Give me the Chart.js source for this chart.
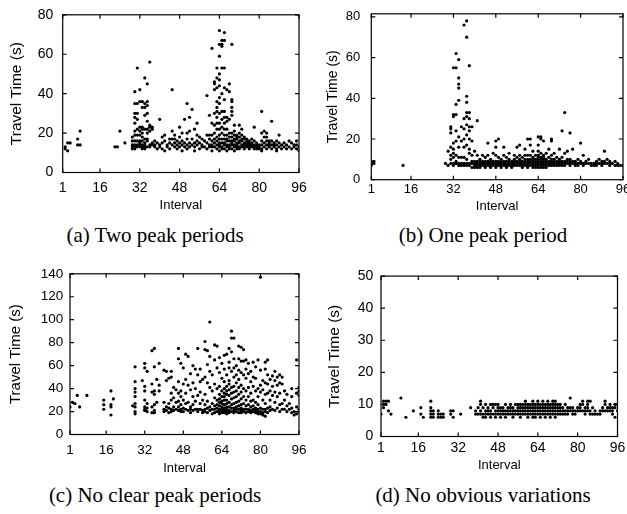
<!DOCTYPE html>
<html>
<head>
<meta charset="utf-8">
<script src="https://cdn.jsdelivr.net/npm/chart.js@4.4.1/dist/chart.umd.min.js"></script>
<style>
  html, body { margin: 0; padding: 0; background: #fff; overflow: hidden; }
  #page { position: relative; width: 627px; height: 514px; overflow: hidden; background: #fff; }
  canvas { position: absolute; }
  .cap {
    position: absolute; width: 300px; text-align: center; white-space: nowrap;
    font-family: "Liberation Serif", "Times New Roman", serif; font-size: 21px; line-height: 1; color: #000;
  }
</style>
</head>
<body>
<div id="page">
  <canvas id="chartA"></canvas>
  <canvas id="chartB"></canvas>
  <canvas id="chartC"></canvas>
  <canvas id="chartD"></canvas>
  <div class="cap" style="left:5px;top:225px">(a) Two peak periods</div>
  <div class="cap" style="left:333px;top:225px">(b) One peak period</div>
  <div class="cap" style="left:5px;top:485px">(c) No clear peak periods</div>
  <div class="cap" style="left:333px;top:485px">(d) No obvious variations</div>
</div>
<script>
const xTicks = [1, 16, 32, 48, 64, 80, 96];

// (a) two peak periods
const yTicksA = [0, 20, 40, 60, 80];
const intervalsA = [2, 3, 4, 7, 8, 22, 23, 24, 26, 29, 30, 31, 32, 33, 34, 35, 36, 37, 38, 39, 40, 41, 42, 43, 44, 45, 46, 47, 48, 49, 50, 51, 52, 53, 54, 55, 56, 57, 58, 59, 60, 61, 62, 63, 64, 65, 66, 67, 68, 69, 70, 71, 72, 73, 74, 75, 76, 77, 78, 79, 80, 81, 82, 83, 84, 85, 86, 87, 88, 89, 90, 91, 92, 93, 94, 95, 96];
const timesA = [
  [13, 12], [11, 15], [15], [17, 14], [21, 14], [13], [13], [21], [15],
  [18, 16, 14, 13, 12],
  [41, 35, 30, 28, 25, 21, 19, 16, 14, 13, 12],
  [53, 35, 30, 27, 22, 19, 16, 14, 13],
  [42, 36, 23, 21, 19, 16, 15, 14, 13],
  [36, 33, 23, 22, 20, 18, 16, 14, 13, 12],
  [48, 35, 33, 29, 22, 17, 15, 14, 13, 12],
  [45, 36, 34, 30, 26, 22, 20, 17, 16, 13],
  [56, 24, 23, 21, 14, 13],
  [23, 22, 15, 14],
  [16, 14, 13], [15, 12], [27, 14, 13], [18, 15, 12], [19, 16, 11], [14, 13],
  [17, 15, 12], [42, 21, 17, 14], [19, 17, 15, 13], [16, 14, 12], [23, 18, 15, 13],
  [20, 16, 14, 11], [27, 15, 13], [35, 20, 17, 14, 12], [28, 21, 15, 13], [32, 17, 14],
  [22, 15, 13, 11], [25, 19, 16, 14], [18, 15, 12], [17, 14, 13], [16, 13],
  [39, 19, 15, 12], [29, 19, 17, 14, 13], [63, 25, 19, 16, 14, 13, 11],
  [46, 45, 42, 30, 24, 20, 17, 15, 13],
  [53, 48, 43, 36, 33, 31, 28, 25, 22, 18, 16, 14, 12],
  [72, 65, 59, 50, 47, 44, 38, 35, 30, 25, 22, 19, 17, 15, 14, 13, 11],
  [67, 65, 64, 53, 40, 31, 27, 23, 20, 17, 15, 13, 12],
  [71, 67, 53, 43, 37, 31, 28, 25, 22, 19, 17, 15, 14, 12],
  [42, 28, 26, 22, 19, 17, 16, 14, 13, 11],
  [45, 41, 27, 20, 18, 16, 14, 13, 12],
  [65, 37, 36, 33, 31, 29, 20, 18, 16, 15, 14, 12],
  [24, 21, 19, 17, 16, 14, 13, 11],
  [19, 18, 17, 15, 14, 13, 12],
  [24, 20, 18, 16, 15, 13, 12],
  [22, 19, 17, 16, 14, 13],
  [18, 17, 15, 14, 13, 12],
  [17, 16, 15, 14, 13],
  [16, 15, 14, 13, 12],
  [17, 15, 14, 13],
  [23, 16, 14, 13, 12],
  [15, 14, 13, 12], [14, 13, 12], [31, 20, 16, 14, 12, 11], [21, 18, 15, 13],
  [20, 18, 16, 14, 12], [16, 15, 14, 13], [26, 16, 14, 12], [15, 14, 13],
  [16, 14, 12, 11], [19, 15, 13], [14, 12], [15, 13], [14, 12], [16, 13],
  [15, 12], [14, 13], [16, 14, 12], [13, 11]
];

// (b) one peak period
const yTicksB = [0, 20, 40, 60, 80];
const intervalsB = [1, 2, 13, 29, 30, 31, 32, 33, 34, 35, 36, 37, 38, 39, 40, 41, 42, 43, 44, 45, 46, 47, 48, 49, 50, 51, 52, 53, 54, 55, 56, 57, 58, 59, 60, 61, 62, 63, 64, 65, 66, 67, 68, 69, 70, 71, 72, 73, 74, 75, 76, 77, 78, 79, 80, 81, 82, 83, 84, 85, 86, 87, 88, 89, 90, 91, 92, 93, 94, 95, 96];
const timesB = [
  [9, 8, 7], [9, 8], [7], [8], [14, 7],
  [26, 25, 23, 16, 12, 10, 8],
  [55, 31, 32, 18, 15, 13, 11, 8, 7],
  [62, 55, 37, 32, 24, 19, 12, 9, 8],
  [59, 50, 47, 45, 39, 21, 16, 11, 8, 7],
  [26, 19, 11, 8, 7],
  [76, 30, 25, 20, 16, 11, 8, 7],
  [78, 70, 41, 38, 33, 31, 27, 22, 17, 10, 8, 7],
  [56, 33, 30, 26, 24, 20, 15, 13, 8, 7],
  [26, 19, 12, 9, 8, 6],
  [14, 9, 8, 7, 6], [29, 12, 9, 8, 7, 6], [10, 9, 8, 7, 6], [12, 9, 8, 7],
  [11, 9, 8, 7, 6], [18, 12, 9, 8, 7], [10, 9, 8, 7, 6], [13, 9, 8, 7],
  [16, 19, 12, 9, 8, 7, 6], [20, 11, 9, 8, 7], [10, 9, 8, 7, 6], [16, 12, 9, 8, 7],
  [11, 9, 8, 7, 6], [13, 10, 9, 8, 7], [9, 8, 7, 6], [12, 10, 9, 8, 7],
  [16, 11, 9, 8, 7], [17, 12, 10, 9, 8, 7], [11, 9, 8, 7, 6], [15, 12, 10, 9, 8, 7],
  [20, 12, 10, 9, 8, 7, 6], [20, 17, 12, 10, 9, 8, 7], [14, 11, 10, 9, 8, 7, 6],
  [12, 10, 9, 8, 7, 6], [21, 17, 14, 12, 11, 10, 9, 8, 7, 6],
  [21, 20, 13, 11, 10, 9, 8, 7, 6], [19, 12, 11, 10, 9, 8, 7, 6],
  [13, 10, 9, 8, 7, 6], [15, 11, 9, 8, 7], [20, 19, 12, 10, 9, 8, 7],
  [13, 10, 9, 8, 7], [11, 9, 8, 7], [15, 10, 9, 8, 7], [24, 11, 9, 8, 7],
  [33, 13, 9, 8, 7], [14, 10, 9, 8], [23, 10, 9, 8, 7], [15, 9, 8], [9, 8, 7],
  [10, 8, 7], [18, 9, 8], [12, 8, 7], [9, 8], [10, 8], [8, 7], [8, 7],
  [9, 8, 7], [10, 8], [9, 8, 7], [14, 9, 8], [10, 8], [9, 8, 7], [8], [9, 7],
  [8, 7], [7], [7]
];

// (c) no clear peak periods
const yTicksC = [0, 20, 40, 60, 80, 100, 120, 140];
const intervalsC = [1, 2, 3, 4, 5, 8, 15, 18, 19, 27, 28, 31, 32, 33, 35, 36, 37, 38, 40, 41, 42, 43, 44, 45, 46, 47, 48, 49, 50, 51, 52, 53, 54, 55, 56, 57, 58, 59, 60, 61, 62, 63, 64, 65, 66, 67, 68, 69, 70, 71, 72, 73, 74, 75, 76, 77, 78, 79, 80, 81, 82, 83, 84, 85, 86, 87, 88, 89, 90, 91, 92, 93, 94, 95, 96];
const timesC = [
  [24], [28], [27], [34], [24], [34], [30, 26, 22], [38, 26, 24, 17], [31], [25],
  [59, 46, 40, 37, 33, 27, 24, 20, 18], [47], [62, 58, 42, 38, 30, 24, 22, 21],
  [55, 27, 23, 20], [73, 44, 37, 24, 19], [75, 59, 38, 35, 26, 21, 19], [48, 28],
  [62, 43, 38], [56, 28, 22, 20], [55, 47, 24, 21], [49, 27, 23, 19],
  [55, 50, 36, 30, 22, 20], [41, 32, 24, 21], [39, 28, 22],
  [75, 66, 46, 36, 29, 24, 21], [62, 38, 33, 26, 22, 20], [58, 44, 30, 23, 20],
  [70, 48, 36, 27, 22], [68, 43, 28, 21], [53, 39, 24, 22, 19], [60, 45, 33, 26, 21],
  [57, 40, 29, 22], [75, 52, 34, 22, 20], [57, 46, 37, 27, 22], [48, 30, 21, 19],
  [81, 74, 50, 35, 26, 22, 20], [73, 61, 45, 29, 23, 19], [98, 68, 55, 41, 24, 21],
  [52, 38, 27, 22, 18], [78, 65, 44, 32, 25, 22, 19], [77, 58, 40, 30, 26, 23, 20],
  [67, 54, 42, 35, 31, 28, 25, 22, 20, 18], [62, 49, 38, 33, 29, 27, 24, 22, 21, 19],
  [69, 57, 46, 40, 36, 33, 30, 26, 23, 21, 19], [70, 52, 42, 38, 35, 30, 27, 24, 22, 20, 18],
  [75, 63, 58, 47, 44, 39, 34, 28, 24, 21, 19], [90, 84, 72, 55, 41, 36, 31, 26, 23, 20],
  [84, 66, 58, 50, 42, 37, 32, 27, 23, 21, 19], [60, 52, 45, 38, 33, 28, 24, 22, 20],
  [77, 66, 56, 48, 41, 35, 29, 25, 22, 19], [76, 64, 54, 43, 37, 31, 26, 23, 21, 19],
  [74, 64, 52, 40, 33, 27, 22, 20], [65, 57, 49, 38, 30, 25, 22, 19],
  [62, 53, 41, 33, 26, 22, 20], [55, 46, 36, 29, 24, 21, 19], [63, 50, 42, 30, 25, 22, 20],
  [59, 49, 38, 28, 23, 21, 19], [65, 40, 33, 26, 22, 20, 18], [137, 56, 43, 37, 23, 20, 18],
  [47, 39, 30, 22, 19, 17], [63, 57, 45, 35, 27, 22, 20, 16], [65, 52, 44, 36, 23, 19],
  [48, 38, 30, 24, 21], [51, 42, 34, 22], [55, 47, 37, 28, 21], [50, 43, 33, 23],
  [52, 45, 36, 26, 20], [50, 44, 27, 22], [38, 30, 22], [35, 25, 20], [27, 22],
  [40, 33, 23, 19], [20, 17], [65, 36, 24, 18], [41, 38, 34, 22, 20]
];

// (d) no obvious variations
const yTicksD = [0, 10, 20, 30, 40, 50];
const intervalsD = [1, 2, 3, 4, 5, 9, 11, 14, 17, 18, 21, 22, 24, 25, 26, 29, 30, 33, 37, 39, 40, 41, 42, 43, 44, 45, 46, 47, 48, 49, 50, 51, 52, 53, 54, 55, 56, 57, 58, 59, 60, 61, 62, 63, 64, 65, 66, 67, 68, 69, 70, 71, 72, 73, 74, 75, 76, 77, 78, 79, 80, 81, 82, 83, 84, 85, 86, 87, 88, 89, 90, 91, 92, 93, 94, 95, 96];
const timesD = [
  [7], [11, 10, 9], [11, 10], [11, 8], [7], [12], [6], [8], [9, 7], [6],
  [11, 9, 8, 7, 6], [8, 7, 6], [8, 7, 6], [7, 6], [7, 6], [8, 7], [8, 6], [7], [9],
  [8, 7], [9, 7], [11, 10, 8, 7], [9, 7, 6], [10, 8, 7, 6], [9, 8, 7], [10, 8, 7, 6],
  [10, 9, 7], [10, 8, 7, 6], [10, 9, 8, 7], [9, 8, 7, 6], [9, 8, 7], [10, 8, 7, 6],
  [9, 8, 7], [10, 9, 8, 7], [9, 8, 7, 6], [10, 8, 7], [10, 9, 8, 7], [10, 9, 8, 7, 6],
  [10, 9, 8, 7], [11, 10, 9, 8, 7], [10, 9, 8, 7, 6], [10, 9, 8, 7], [11, 10, 9, 8, 7, 6],
  [10, 9, 8, 7, 6], [11, 10, 9, 8, 7], [10, 9, 8, 7, 6], [11, 10, 9, 8, 7],
  [10, 9, 8, 7, 6], [11, 10, 9, 8, 7], [10, 9, 8, 7, 6], [11, 10, 9, 8, 7],
  [11, 10, 9, 8, 7, 6], [10, 9, 8, 7], [10, 9, 8, 7], [9, 8, 7], [10, 8, 7], [9, 8, 7],
  [12, 9, 8], [9, 8, 7], [8, 7], [9, 8], [10, 9, 8], [11, 10, 8], [9, 8, 7],
  [11, 10, 9, 8], [11, 8, 7], [9, 7], [8, 7], [7], [8, 7], [9, 8], [11, 10, 8],
  [9, 8], [10, 9, 8], [9, 8, 7], [10, 9, 6], [10, 8]
];

// box + inward tick marks on all four sides (gnuplot style)
const boxTicks = {
  id: "boxTicks",
  afterDraw(chart) {
    const { ctx, chartArea: area, scales } = chart;
    ctx.save();
    ctx.strokeStyle = "#000";
    ctx.lineWidth = 1.2;
    ctx.strokeRect(area.left, area.top, area.right - area.left, area.bottom - area.top);
    ctx.beginPath();
    scales.x.ticks.forEach((tick) => {
      const px = scales.x.getPixelForValue(tick.value);
      ctx.moveTo(px, area.bottom); ctx.lineTo(px, area.bottom - 4);
      ctx.moveTo(px, area.top); ctx.lineTo(px, area.top + 4);
    });
    scales.y.ticks.forEach((tick) => {
      const py = scales.y.getPixelForValue(tick.value);
      ctx.moveTo(area.left, py); ctx.lineTo(area.left + 4, py);
      ctx.moveTo(area.right, py); ctx.lineTo(area.right - 4, py);
    });
    ctx.stroke();
    ctx.restore();
  }
};

const sans = '"Liberation Sans", Arial, Helvetica, sans-serif';

function makePanel(id, box, intervals, times, yTicks) {
  const canvas = document.getElementById(id);
  const yTitleHalf = box.yTitleSize * 1.2 / 2;
  const xTitleHalf = 13 * 1.2 / 2;
  const left = Math.round(box.yTitleMid - yTitleHalf);
  const top = Math.round(box.top - 12);
  const right = Math.round(box.right + 14);
  const bottom = Math.round(box.xTitleMid + xTitleHalf);
  canvas.width = right - left;
  canvas.height = bottom - top;
  canvas.style.left = left + "px";
  canvas.style.top = top + "px";

  const points = [];
  intervals.forEach((interval, i) => {
    times[i].forEach((t) => points.push({ x: interval, y: t }));
  });

  new Chart(canvas.getContext("2d"), {
    type: "scatter",
    data: {
      datasets: [{
        data: points,
        backgroundColor: "#000",
        borderWidth: 0,
        pointRadius: 1.6,
        pointHoverRadius: 1.6
      }]
    },
    options: {
      responsive: false,
      animation: false,
      layout: { padding: { left: 0, top: box.top - top, right: right - box.right, bottom: 0 } },
      plugins: { legend: { display: false }, tooltip: { enabled: false } },
      scales: {
        x: {
          type: "linear",
          min: 1,
          max: 96,
          grid: { display: false, drawTicks: false },
          border: { display: false },
          afterBuildTicks: (scale) => { scale.ticks = xTicks.map((v) => ({ value: v })); },
          afterFit: (scale) => { scale.height = bottom - box.bottom; },
          ticks: {
            color: "#000",
            padding: box.xPad,
            autoSkip: false,
            maxRotation: 0,
            font: { family: sans, size: box.tickSize }
          },
          title: {
            display: true,
            text: "Interval",
            color: "#000",
            padding: 0,
            font: { family: sans, size: 13 }
          }
        },
        y: {
          type: "linear",
          min: 0,
          max: box.yMax,
          grid: { display: false, drawTicks: false },
          border: { display: false },
          afterBuildTicks: (scale) => { scale.ticks = yTicks.map((v) => ({ value: v })); },
          afterFit: (scale) => { scale.width = box.left - left; },
          ticks: {
            color: "#000",
            padding: box.yGap,
            font: { family: sans, size: box.tickSize }
          },
          title: {
            display: true,
            text: "Travel Time (s)",
            color: "#000",
            padding: 0,
            font: { family: sans, size: box.yTitleSize }
          }
        }
      }
    },
    plugins: [boxTicks]
  });
}

makePanel("chartA", { left: 62.7, top: 9, right: 300, bottom: 172.5, yMax: 80, tickSize: 14, yTitleSize: 15.5,
  yTitleMid: 16, xTitleMid: 205, xPad: 7.2, yGap: 9.4 }, intervalsA, timesA, yTicksA);
makePanel("chartB", { left: 371.3, top: 7, right: 623, bottom: 179.7, yMax: 81.5, tickSize: 13, yTitleSize: 14,
  yTitleMid: 333, xTitleMid: 206, xPad: 2, yGap: 11 }, intervalsB, timesB, yTicksB);
makePanel("chartC", { left: 70, top: 270.7, right: 299.5, bottom: 434.5, yMax: 140, tickSize: 13.5, yTitleSize: 15,
  yTitleMid: 16, xTitleMid: 468, xPad: 7.5, yGap: 6.7 }, intervalsC, timesC, yTicksC);
makePanel("chartD", { left: 381, top: 271.7, right: 617.5, bottom: 436.5, yMax: 50, tickSize: 14, yTitleSize: 15.5,
  yTitleMid: 334, xTitleMid: 465, xPad: 3, yGap: 7.7 }, intervalsD, timesD, yTicksD);
</script>
</body>
</html>
